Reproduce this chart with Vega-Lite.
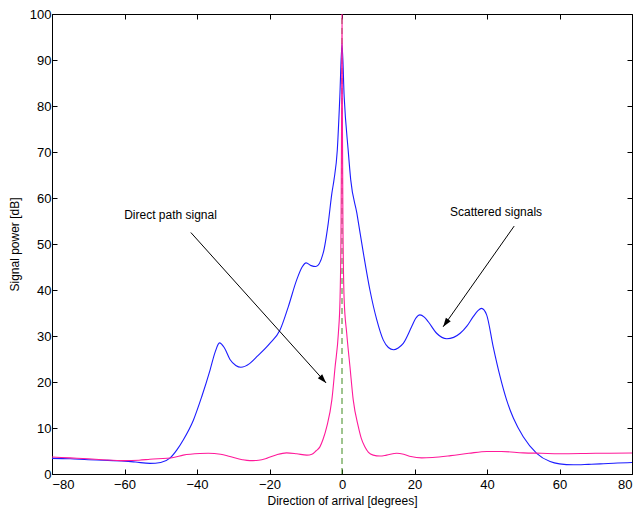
{
  "$schema": "https://vega.github.io/schema/vega-lite/v6.json",
  "width": 580,
  "height": 460,
  "autosize": "none",
  "padding": {"left": 52, "top": 14, "right": 10, "bottom": 34},
  "background": "white",
  "config": {
    "view": {"stroke": "black", "strokeWidth": 1},
    "font": "Liberation Sans",
    "axis": {
      "domainColor": "black",
      "tickColor": "black",
      "labelColor": "black",
      "titleColor": "black",
      "labelFontSize": 13,
      "titleFontSize": 12,
      "titleFontWeight": "normal",
      "grid": false,
      "tickSize": -5,
      "labelPadding": 6
    }
  },
  "datasets": {
    "curves": [
      {"s": "blue", "x": -80, "y": 3.4}, {"s": "blue", "x": -75, "y": 3.3}, {"s": "blue", "x": -70, "y": 3.1},
      {"s": "blue", "x": -66, "y": 3.0}, {"s": "blue", "x": -60, "y": 2.8}, {"s": "blue", "x": -57, "y": 2.6},
      {"s": "blue", "x": -53, "y": 2.3}, {"s": "blue", "x": -50, "y": 2.5}, {"s": "blue", "x": -47.4, "y": 3.5},
      {"s": "blue", "x": -45.5, "y": 5.3}, {"s": "blue", "x": -43.8, "y": 7.4}, {"s": "blue", "x": -41, "y": 11.7},
      {"s": "blue", "x": -38.7, "y": 16.8}, {"s": "blue", "x": -36.4, "y": 22.6}, {"s": "blue", "x": -35, "y": 26.5},
      {"s": "blue", "x": -33.8, "y": 28.5}, {"s": "blue", "x": -32.5, "y": 27.5}, {"s": "blue", "x": -30.9, "y": 24.9},
      {"s": "blue", "x": -29.3, "y": 23.6}, {"s": "blue", "x": -27.9, "y": 23.2}, {"s": "blue", "x": -25.5, "y": 24.0},
      {"s": "blue", "x": -23.5, "y": 25.5}, {"s": "blue", "x": -19.9, "y": 28.4}, {"s": "blue", "x": -17.1, "y": 31.3},
      {"s": "blue", "x": -14.8, "y": 36.4}, {"s": "blue", "x": -12.5, "y": 42.2}, {"s": "blue", "x": -11, "y": 45.0},
      {"s": "blue", "x": -9.9, "y": 45.9}, {"s": "blue", "x": -8.5, "y": 45.3}, {"s": "blue", "x": -7.2, "y": 45.1},
      {"s": "blue", "x": -5.2, "y": 48}, {"s": "blue", "x": -3.8, "y": 54.5}, {"s": "blue", "x": -2.8, "y": 61},
      {"s": "blue", "x": -2.2, "y": 64}, {"s": "blue", "x": -1.3, "y": 70.4}, {"s": "blue", "x": -0.6, "y": 82},
      {"s": "blue", "x": 0, "y": 93.5}, {"s": "blue", "x": 0.6, "y": 82}, {"s": "blue", "x": 1.7, "y": 70.4},
      {"s": "blue", "x": 2.4, "y": 64}, {"s": "blue", "x": 4.1, "y": 56.7}, {"s": "blue", "x": 5.9, "y": 48},
      {"s": "blue", "x": 7.7, "y": 40}, {"s": "blue", "x": 9.6, "y": 33.5}, {"s": "blue", "x": 11.4, "y": 29.1},
      {"s": "blue", "x": 12.8, "y": 27.5}, {"s": "blue", "x": 14.2, "y": 27}, {"s": "blue", "x": 15.5, "y": 27.4},
      {"s": "blue", "x": 16.9, "y": 28.4}, {"s": "blue", "x": 19.2, "y": 32}, {"s": "blue", "x": 20.3, "y": 33.8},
      {"s": "blue", "x": 21.5, "y": 34.6}, {"s": "blue", "x": 22.7, "y": 34.1}, {"s": "blue", "x": 23.8, "y": 33.1},
      {"s": "blue", "x": 26.1, "y": 30.6}, {"s": "blue", "x": 28.9, "y": 29.4}, {"s": "blue", "x": 30.8, "y": 29.7},
      {"s": "blue", "x": 32.6, "y": 30.6}, {"s": "blue", "x": 34.5, "y": 32.2}, {"s": "blue", "x": 36.2, "y": 34.2},
      {"s": "blue", "x": 37.5, "y": 35.5}, {"s": "blue", "x": 38.5, "y": 36}, {"s": "blue", "x": 39.9, "y": 34.6},
      {"s": "blue", "x": 41.7, "y": 27.7}, {"s": "blue", "x": 43.6, "y": 21.2}, {"s": "blue", "x": 45.4, "y": 16.1},
      {"s": "blue", "x": 47.3, "y": 12.1}, {"s": "blue", "x": 50, "y": 8.1}, {"s": "blue", "x": 53.7, "y": 4.5},
      {"s": "blue", "x": 57.4, "y": 2.7}, {"s": "blue", "x": 60, "y": 2.2}, {"s": "blue", "x": 63.8, "y": 2.0},
      {"s": "blue", "x": 68, "y": 2.1}, {"s": "blue", "x": 71.2, "y": 2.2}, {"s": "blue", "x": 76, "y": 2.4},
      {"s": "blue", "x": 80, "y": 2.5},
      {"s": "pink", "x": -80, "y": 3.7}, {"s": "pink", "x": -75, "y": 3.5}, {"s": "pink", "x": -70, "y": 3.3},
      {"s": "pink", "x": -66, "y": 3.1}, {"s": "pink", "x": -60, "y": 2.9}, {"s": "pink", "x": -56, "y": 3.0},
      {"s": "pink", "x": -53, "y": 3.2}, {"s": "pink", "x": -46.5, "y": 3.6}, {"s": "pink", "x": -43.8, "y": 4.1},
      {"s": "pink", "x": -39.2, "y": 4.45}, {"s": "pink", "x": -36.9, "y": 4.5}, {"s": "pink", "x": -33.5, "y": 4.3},
      {"s": "pink", "x": -30.9, "y": 3.8}, {"s": "pink", "x": -27.5, "y": 3.1}, {"s": "pink", "x": -25.4, "y": 2.9},
      {"s": "pink", "x": -23, "y": 3.0}, {"s": "pink", "x": -20.8, "y": 3.4}, {"s": "pink", "x": -18, "y": 4.2},
      {"s": "pink", "x": -15.3, "y": 4.6}, {"s": "pink", "x": -12.5, "y": 4.4}, {"s": "pink", "x": -9.7, "y": 4.1},
      {"s": "pink", "x": -8.3, "y": 4.3}, {"s": "pink", "x": -7.2, "y": 5.0}, {"s": "pink", "x": -6.1, "y": 5.9},
      {"s": "pink", "x": -5.2, "y": 7.6}, {"s": "pink", "x": -4.2, "y": 10.3}, {"s": "pink", "x": -2.8, "y": 16.1},
      {"s": "pink", "x": -1.9, "y": 23.3}, {"s": "pink", "x": -1.0, "y": 30.6}, {"s": "pink", "x": -0.55, "y": 37.8},
      {"s": "pink", "x": -0.25, "y": 55}, {"s": "pink", "x": -0.1, "y": 80}, {"s": "pink", "x": 0, "y": 100},
      {"s": "pink", "x": 0.1, "y": 80}, {"s": "pink", "x": 0.25, "y": 55}, {"s": "pink", "x": 0.6, "y": 37.8},
      {"s": "pink", "x": 1.3, "y": 30.6}, {"s": "pink", "x": 2.2, "y": 23.3}, {"s": "pink", "x": 3.1, "y": 16.1},
      {"s": "pink", "x": 4.5, "y": 10.3}, {"s": "pink", "x": 5.3, "y": 7.8}, {"s": "pink", "x": 6.3, "y": 5.9},
      {"s": "pink", "x": 7.3, "y": 4.7}, {"s": "pink", "x": 8.6, "y": 4.1}, {"s": "pink", "x": 10.5, "y": 3.9},
      {"s": "pink", "x": 12.3, "y": 4.1}, {"s": "pink", "x": 15.1, "y": 4.5}, {"s": "pink", "x": 17, "y": 4.3},
      {"s": "pink", "x": 19, "y": 3.8}, {"s": "pink", "x": 22, "y": 3.5}, {"s": "pink", "x": 25, "y": 3.6},
      {"s": "pink", "x": 30, "y": 4.0}, {"s": "pink", "x": 35, "y": 4.5}, {"s": "pink", "x": 40, "y": 4.9},
      {"s": "pink", "x": 44, "y": 4.9}, {"s": "pink", "x": 50, "y": 4.6}, {"s": "pink", "x": 55, "y": 4.5},
      {"s": "pink", "x": 60, "y": 4.4}, {"s": "pink", "x": 70, "y": 4.5}, {"s": "pink", "x": 80, "y": 4.55}
    ],
    "marker": [{"x": 0, "y": 0, "y2": 100}],
    "arrows": [
      {"label": "Direct path signal", "tx": -60.1, "ty": 56.3, "x": -41.7, "y": 52.5, "x2": -4.4, "y2": 19.8},
      {"label": "Scattered signals", "tx": 29.8, "ty": 57, "x": 47.5, "y": 53.9, "x2": 27.9, "y2": 32}
    ]
  },
  "layer": [
    {
      "data": {"name": "marker"},
      "mark": {"type": "rule", "color": "#3f8a1f", "strokeDash": [6, 4], "strokeWidth": 1},
      "encoding": {
        "x": {"field": "x", "type": "quantitative", "scale": {"domain": [-80, 80], "nice": false},
          "axis": {"orient": "bottom", "values": [-80, -60, -40, -20, 0, 20, 40, 60, 80], "title": "Direction of arrival [degrees]", "labelPadding": 9, "titlePadding": 4}},
        "y": {"field": "y", "type": "quantitative", "scale": {"domain": [0, 100], "nice": false},
          "axis": {"orient": "left", "values": [0, 10, 20, 30, 40, 50, 60, 70, 80, 90, 100], "title": "Signal power [dB]", "titlePadding": 8}},
        "y2": {"field": "y2"}
      }
    },
    {
      "data": {"name": "curves"},
      "mark": {"type": "line", "strokeWidth": 1.1, "interpolate": "monotone", "clip": true},
      "encoding": {
        "x": {"field": "x", "type": "quantitative",
          "axis": {"orient": "top", "values": [-80, -60, -40, -20, 0, 20, 40, 60, 80], "labels": false, "title": null, "domain": false}},
        "y": {"field": "y", "type": "quantitative",
          "axis": {"orient": "right", "values": [0, 10, 20, 30, 40, 50, 60, 70, 80, 90, 100], "labels": false, "title": null, "domain": false}},
        "color": {"field": "s", "type": "nominal", "scale": {"domain": ["blue", "pink"], "range": ["#1c1cff", "#ff1a9a"]}, "legend": null},
        "order": {"field": "x", "type": "quantitative"}
      }
    },
    {
      "data": {"name": "arrows"},
      "mark": {"type": "rule", "color": "black", "strokeWidth": 1},
      "encoding": {
        "x": {"field": "x", "type": "quantitative", "axis": null},
        "y": {"field": "y", "type": "quantitative", "axis": null},
        "x2": {"field": "x2"},
        "y2": {"field": "y2"}
      }
    },
    {
      "data": {"name": "arrows"},
      "transform": [{"filter": "datum.label == 'Direct path signal'"}],
      "mark": {"type": "point", "shape": "M0,0L-0.33,1L0.33,1Z", "filled": true, "color": "black", "opacity": 1, "size": 324, "angle": 138},
      "encoding": {
        "x": {"field": "x2", "type": "quantitative", "axis": null},
        "y": {"field": "y2", "type": "quantitative", "axis": null}
      }
    },
    {
      "data": {"name": "arrows"},
      "transform": [{"filter": "datum.label == 'Scattered signals'"}],
      "mark": {"type": "point", "shape": "M0,0L-0.33,1L0.33,1Z", "filled": true, "color": "black", "opacity": 1, "size": 324, "angle": 215.2},
      "encoding": {
        "x": {"field": "x2", "type": "quantitative", "axis": null},
        "y": {"field": "y2", "type": "quantitative", "axis": null}
      }
    },
    {
      "data": {"name": "arrows"},
      "mark": {"type": "text", "align": "left", "baseline": "middle", "fontSize": 12, "color": "black"},
      "encoding": {
        "x": {"field": "tx", "type": "quantitative", "axis": null},
        "y": {"field": "ty", "type": "quantitative", "axis": null},
        "text": {"field": "label"}
      }
    }
  ],
  "resolve": {"axis": {"x": "independent", "y": "independent"}}
}
